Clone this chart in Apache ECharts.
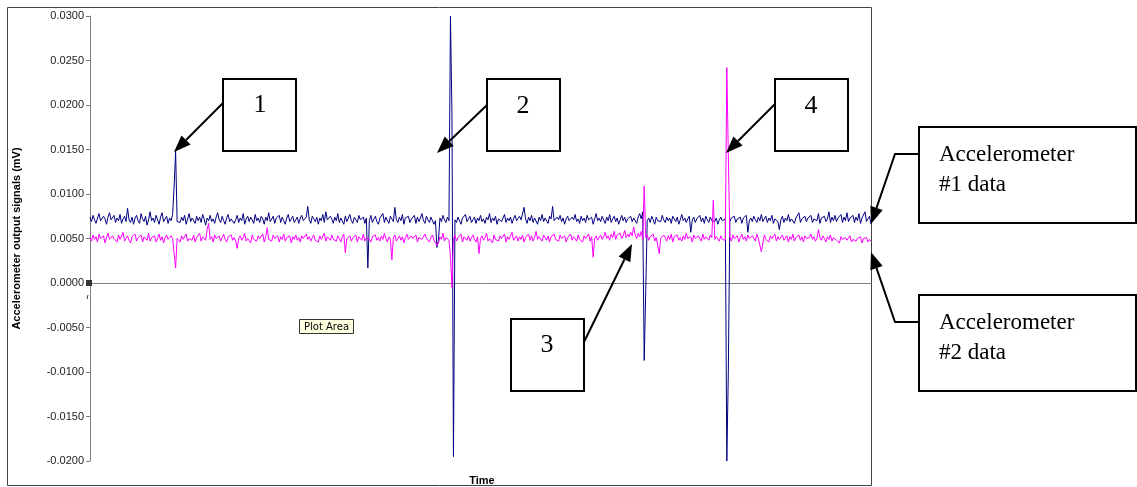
<!DOCTYPE html>
<html><head><meta charset="utf-8">
<script src="https://cdn.jsdelivr.net/npm/echarts@6/dist/echarts.min.js"></script>
<style>html,body{margin:0;padding:0;background:#fff}#c{width:1137px;height:487px}</style>
</head><body><div id="c"></div>
<script>
// Accelerometer #1 output signal (mV), navy trace
const acc1 = [
0.0074,0.0069,0.0076,0.0071,0.0067,0.0073,0.0078,0.0070,0.0068,0.0075,0.0072,0.0066,0.0074,0.0079,0.0071,0.0069,0.0076,0.0068,0.0073,0.0070,
0.0077,0.0067,0.0072,0.0075,0.0069,0.0084,0.0071,0.0068,0.0074,0.0066,0.0073,0.0076,0.0070,0.0067,0.0078,0.0072,0.0069,0.0075,0.0065,0.0071,
0.0080,0.0070,0.0073,0.0068,0.0076,0.0071,0.0066,0.0074,0.0079,0.0069,0.0072,0.0075,0.0067,0.0073,0.0070,0.0077,0.0108,0.0148,0.0069,0.0071,
0.0068,0.0074,0.0070,0.0076,0.0066,0.0072,0.0078,0.0069,0.0073,0.0071,0.0067,0.0075,0.0070,0.0074,0.0068,0.0077,0.0072,0.0065,0.0073,0.0070,
0.0076,0.0069,0.0072,0.0067,0.0074,0.0079,0.0071,0.0068,0.0075,0.0070,0.0066,0.0073,0.0077,0.0069,0.0072,0.0074,0.0067,0.0071,0.0076,0.0068,
0.0073,0.0070,0.0078,0.0066,0.0072,0.0075,0.0069,0.0074,0.0071,0.0067,0.0077,0.0070,0.0073,0.0068,0.0075,0.0072,0.0066,0.0074,0.0070,0.0079,
0.0069,0.0072,0.0075,0.0067,0.0073,0.0071,0.0076,0.0068,0.0074,0.0070,0.0066,0.0073,0.0077,0.0069,0.0072,0.0075,0.0068,0.0071,0.0074,0.0067,
0.0073,0.0076,0.0070,0.0068,0.0074,0.0086,0.0071,0.0067,0.0075,0.0072,0.0069,0.0074,0.0066,0.0073,0.0070,0.0077,0.0068,0.0080,0.0071,0.0069,
0.0075,0.0072,0.0067,0.0074,0.0070,0.0078,0.0068,0.0073,0.0071,0.0066,0.0075,0.0069,0.0073,0.0077,0.0070,0.0067,0.0074,0.0072,0.0068,0.0076,
0.0071,0.0069,0.0074,0.0067,0.0073,0.0017,0.0070,0.0076,0.0068,0.0072,0.0075,0.0069,0.0066,0.0073,0.0071,0.0078,0.0068,0.0074,0.0070,0.0067,
0.0075,0.0072,0.0069,0.0085,0.0071,0.0068,0.0074,0.0070,0.0077,0.0066,0.0073,0.0071,0.0075,0.0068,0.0072,0.0070,0.0076,0.0067,0.0074,0.0069,
0.0073,0.0078,0.0070,0.0067,0.0075,0.0071,0.0068,0.0074,0.0072,0.0066,0.0070,0.0040,0.0048,0.0073,0.0069,0.0076,0.0071,0.0068,0.0074,0.0070,
0.0300,0.0190,-0.0195,0.0071,0.0068,0.0074,0.0070,0.0066,0.0073,0.0071,0.0077,0.0069,0.0072,0.0075,0.0068,0.0071,0.0074,0.0067,0.0073,0.0070,
0.0076,0.0069,0.0072,0.0067,0.0074,0.0071,0.0078,0.0068,0.0073,0.0070,0.0075,0.0066,0.0072,0.0074,0.0069,0.0071,0.0077,0.0068,0.0073,0.0070,
0.0074,0.0067,0.0072,0.0076,0.0070,0.0068,0.0075,0.0071,0.0069,0.0085,0.0072,0.0067,0.0074,0.0070,0.0076,0.0068,0.0073,0.0071,0.0066,0.0074,
0.0070,0.0077,0.0069,0.0073,0.0071,0.0067,0.0075,0.0072,0.0086,0.0070,0.0068,0.0074,0.0071,0.0076,0.0069,0.0073,0.0066,0.0072,0.0075,0.0070,
0.0068,0.0074,0.0071,0.0077,0.0069,0.0072,0.0067,0.0075,0.0070,0.0073,0.0068,0.0076,0.0071,0.0069,0.0074,0.0066,0.0072,0.0078,0.0070,0.0073,
0.0069,0.0075,0.0071,0.0067,0.0074,0.0070,0.0077,0.0068,0.0072,0.0075,0.0069,0.0073,0.0066,0.0071,0.0076,0.0070,0.0074,0.0068,0.0072,0.0070,
0.0075,0.0069,0.0073,0.0071,0.0067,0.0074,0.0078,0.0072,0.0080,-0.0087,-0.0010,0.0070,0.0073,0.0068,0.0075,0.0071,0.0066,0.0074,0.0070,0.0072,
0.0069,0.0076,0.0071,0.0068,0.0074,0.0070,0.0073,0.0067,0.0075,0.0072,0.0069,0.0074,0.0066,0.0071,0.0077,0.0070,0.0073,0.0068,0.0072,0.0075,
0.0057,0.0071,0.0074,0.0068,0.0072,0.0070,0.0076,0.0069,0.0073,0.0067,0.0075,0.0071,0.0068,0.0074,0.0070,0.0072,0.0069,0.0073,0.0066,0.0071,
0.0074,0.0070,0.0068,0.0072,-0.0200,-0.0101,0.0069,0.0073,0.0071,0.0075,0.0068,0.0072,0.0070,0.0074,0.0067,0.0073,0.0071,0.0076,0.0057,0.0070,
0.0073,0.0069,0.0075,0.0071,0.0068,0.0074,0.0070,0.0077,0.0069,0.0072,0.0075,0.0068,0.0073,0.0070,0.0076,0.0067,0.0072,0.0074,0.0069,0.0060,
0.0071,0.0075,0.0068,0.0073,0.0070,0.0077,0.0069,0.0072,0.0074,0.0067,0.0073,0.0071,0.0079,0.0068,0.0072,0.0070,0.0075,0.0069,0.0073,0.0071,
0.0076,0.0068,0.0072,0.0074,0.0070,0.0078,0.0067,0.0073,0.0071,0.0075,0.0069,0.0072,0.0080,0.0068,0.0074,0.0070,0.0076,0.0069,0.0073,0.0071,
0.0077,0.0068,0.0074,0.0070,0.0079,0.0069,0.0073,0.0071,0.0076,0.0068,0.0074,0.0070,0.0078,0.0067,0.0073,0.0071,0.0080,0.0069,0.0072,0.0075,
0.0066
];
// Accelerometer #2 output signal (mV), magenta trace
const acc2 = [
0.0051,0.0047,0.0054,0.0049,0.0052,0.0046,0.0055,0.0050,0.0048,0.0053,0.0045,0.0051,0.0056,0.0049,0.0047,0.0053,0.0050,0.0052,0.0046,0.0054,
0.0049,0.0051,0.0057,0.0047,0.0050,0.0053,0.0048,0.0045,0.0052,0.0050,0.0055,0.0047,0.0051,0.0049,0.0054,0.0046,0.0052,0.0050,0.0048,0.0056,
0.0047,0.0051,0.0049,0.0053,0.0046,0.0050,0.0055,0.0048,0.0052,0.0045,0.0051,0.0054,0.0049,0.0047,0.0053,0.0050,0.0048,0.0017,0.0050,0.0052,
0.0046,0.0053,0.0049,0.0051,0.0055,0.0047,0.0050,0.0052,0.0048,0.0054,0.0046,0.0051,0.0049,0.0056,0.0047,0.0052,0.0050,0.0048,0.0060,0.0067,
0.0049,0.0052,0.0046,0.0054,0.0050,0.0048,0.0053,0.0047,0.0051,0.0055,0.0049,0.0046,0.0052,0.0050,0.0054,0.0048,0.0051,0.0047,0.0039,0.0050,
0.0053,0.0048,0.0051,0.0056,0.0047,0.0050,0.0052,0.0045,0.0054,0.0049,0.0051,0.0047,0.0053,0.0050,0.0048,0.0055,0.0046,0.0052,0.0062,0.0049,
0.0051,0.0047,0.0054,0.0050,0.0048,0.0053,0.0046,0.0052,0.0049,0.0055,0.0047,0.0051,0.0050,0.0053,0.0045,0.0052,0.0049,0.0054,0.0048,0.0051,
0.0046,0.0053,0.0050,0.0048,0.0055,0.0049,0.0052,0.0047,0.0051,0.0054,0.0048,0.0050,0.0046,0.0053,0.0049,0.0051,0.0056,0.0047,0.0052,0.0050,
0.0048,0.0054,0.0049,0.0051,0.0047,0.0053,0.0050,0.0046,0.0052,0.0055,0.0034,0.0050,0.0048,0.0053,0.0047,0.0051,0.0049,0.0054,0.0046,0.0052,
0.0050,0.0048,0.0055,0.0047,0.0051,0.0053,0.0049,0.0046,0.0052,0.0050,0.0054,0.0048,0.0051,0.0047,0.0053,0.0049,0.0056,0.0050,0.0046,0.0052,
0.0049,0.0026,0.0051,0.0054,0.0047,0.0050,0.0053,0.0048,0.0052,0.0045,0.0051,0.0055,0.0049,0.0047,0.0053,0.0050,0.0048,0.0054,0.0046,0.0051,
0.0053,0.0049,0.0047,0.0055,0.0050,0.0052,0.0046,0.0051,0.0054,0.0048,0.0050,0.0042,0.0045,0.0052,0.0049,0.0056,0.0047,0.0051,0.0053,0.0048,
0.0030,-0.0005,0.0050,0.0054,0.0047,0.0051,0.0049,0.0055,0.0046,0.0052,0.0050,0.0048,0.0053,0.0047,0.0051,0.0054,0.0049,0.0046,0.0052,0.0033,
0.0050,0.0053,0.0048,0.0051,0.0056,0.0047,0.0050,0.0052,0.0045,0.0054,0.0049,0.0051,0.0047,0.0053,0.0050,0.0048,0.0055,0.0046,0.0052,0.0049,
0.0051,0.0057,0.0048,0.0050,0.0053,0.0047,0.0052,0.0049,0.0054,0.0046,0.0051,0.0050,0.0055,0.0048,0.0053,0.0047,0.0051,0.0058,0.0049,0.0052,
0.0050,0.0047,0.0054,0.0051,0.0048,0.0053,0.0046,0.0052,0.0050,0.0055,0.0049,0.0051,0.0047,0.0054,0.0050,0.0048,0.0053,0.0046,0.0051,0.0049,
0.0055,0.0048,0.0052,0.0050,0.0047,0.0054,0.0049,0.0051,0.0046,0.0053,0.0050,0.0048,0.0055,0.0047,0.0052,0.0029,0.0050,0.0053,0.0048,0.0051,
0.0054,0.0049,0.0052,0.0057,0.0050,0.0053,0.0048,0.0055,0.0051,0.0058,0.0049,0.0054,0.0052,0.0056,0.0050,0.0053,0.0059,0.0051,0.0055,0.0052,
0.0057,0.0053,0.0063,0.0054,0.0050,0.0056,0.0052,0.0058,0.0049,0.0109,0.0051,0.0054,0.0048,0.0052,0.0050,0.0055,0.0047,0.0051,0.0053,0.0033,
0.0050,0.0048,0.0054,0.0051,0.0047,0.0053,0.0049,0.0055,0.0046,0.0052,0.0050,0.0054,0.0048,0.0051,0.0047,0.0053,0.0049,0.0056,0.0050,0.0048,
0.0052,0.0046,0.0054,0.0050,0.0048,0.0053,0.0051,0.0047,0.0055,0.0049,0.0052,0.0050,0.0048,0.0054,0.0051,0.0093,0.0049,0.0052,0.0050,0.0047,
0.0053,0.0049,0.0051,0.0048,0.0242,0.0144,0.0052,0.0047,0.0054,0.0050,0.0048,0.0053,0.0046,0.0051,0.0055,0.0049,0.0052,0.0047,0.0054,0.0050,
0.0048,0.0053,0.0051,0.0047,0.0055,0.0050,0.0052,0.0035,0.0037,0.0054,0.0049,0.0051,0.0046,0.0053,0.0050,0.0048,0.0055,0.0047,0.0052,0.0049,
0.0051,0.0054,0.0048,0.0050,0.0053,0.0046,0.0052,0.0049,0.0055,0.0047,0.0051,0.0050,0.0054,0.0048,0.0052,0.0046,0.0053,0.0050,0.0048,0.0051,
0.0055,0.0049,0.0052,0.0047,0.0050,0.0060,0.0051,0.0048,0.0053,0.0050,0.0046,0.0052,0.0049,0.0054,0.0047,0.0051,0.0053,0.0048,0.0050,0.0045,
0.0052,0.0049,0.0047,0.0051,0.0048,0.0050,0.0053,0.0046,0.0049,0.0051,0.0047,0.0050,0.0048,0.0052,0.0045,0.0050,0.0048,0.0051,0.0046,0.0049,
0.0047
];
const calloutLabels = ['1', '2', '3', '4'];
const seriesLabels = ['Accelerometer', '#1 data', 'Accelerometer', '#2 data'];
const yAxisTitle = 'Accelerometer output signals (mV)';
const xAxisTitle = 'Time';

const timeIdx = acc1.map((_, i) => i);

function arrow(x1, y1, x2, y2, pre) {
  const a = Math.atan2(y2 - y1, x2 - x1), L = 17, W = 6.5;
  const bx = x2 - L * Math.cos(a), by = y2 - L * Math.sin(a);
  const pts = (pre || []).concat([[x1, y1], [bx, by]]);
  return [
    { type: 'polyline', shape: { points: pts }, style: { stroke: '#000', lineWidth: 2, fill: null }, z: 100 },
    { type: 'polygon', shape: { points: [[x2, y2], [bx + W * Math.sin(a), by - W * Math.cos(a)], [bx - W * Math.sin(a), by + W * Math.cos(a)]] }, style: { fill: '#000' }, z: 100 }
  ];
}
function box(x, y, w, h) {
  return { type: 'rect', shape: { x: x, y: y, width: w, height: h }, style: { fill: '#fff', stroke: '#000', lineWidth: 2 }, z: 100 };
}
function txt(s, x, y, size, align) {
  return { type: 'text', z: 101, style: { text: s, x: x, y: y, fill: '#000', font: size + 'px "Liberation Serif"', align: align || 'center', verticalAlign: 'middle', textAlign: align || 'center', textVerticalAlign: 'middle' } };
}

const graphics = [
  { type: 'rect', shape: { x: 7.5, y: 7.5, width: 864, height: 478 }, style: { fill: null, stroke: '#444', lineWidth: 1 }, z: 0, silent: true },
  { type: 'rect', shape: { x: 86, y: 280, width: 6, height: 6 }, style: { fill: '#333' }, z: 50 },
  { type: 'line', shape: { x1: 88, y1: 295, x2: 87, y2: 299 }, style: { stroke: '#333', lineWidth: 1 }, z: 50 },
  { type: 'rect', shape: { x: 299.5, y: 319.5, width: 54, height: 14 }, style: { fill: '#FFFFE1', stroke: '#333', lineWidth: 1 }, z: 60 },
  { type: 'text', z: 61, style: { text: 'Plot Area', x: 326.5, y: 327, fill: '#000', font: '10px "DejaVu Sans"', align: 'center', verticalAlign: 'middle', textAlign: 'center', textVerticalAlign: 'middle' } },
  { type: 'text', z: 61, style: { text: xAxisTitle, x: 482, y: 481, fill: '#000', font: 'bold 11px "Liberation Sans"', align: 'center', verticalAlign: 'middle', textAlign: 'center', textVerticalAlign: 'middle' } },
  box(223, 79, 73, 72), txt(calloutLabels[0], 260, 105, 26),
  box(487, 79, 73, 72), txt(calloutLabels[1], 523, 106, 26),
  box(511, 319, 73, 72), txt(calloutLabels[2], 547, 345, 26),
  box(775, 79, 73, 72), txt(calloutLabels[3], 811, 106, 26),
  box(919, 127, 217, 96), txt(seriesLabels[0], 939, 155, 23, 'left'), txt(seriesLabels[1], 939, 185, 23, 'left'),
  box(919, 295, 217, 96), txt(seriesLabels[2], 939, 323, 23, 'left'), txt(seriesLabels[3], 939, 353, 23, 'left')
]
.concat(arrow(223, 103, 174, 152))
.concat(arrow(487, 105, 437, 153))
.concat(arrow(584, 342, 632, 244))
.concat(arrow(775, 104, 726, 153))
.concat(arrow(895, 154, 871, 224, [[919, 154]]))
.concat(arrow(895, 322, 871, 252, [[919, 322]]));

const chart = echarts.init(document.getElementById('c'), null, { renderer: 'canvas' });
chart.setOption({
  animation: false,
  backgroundColor: '#fff',
  tooltip: { show: false },
  axisPointer: { show: false },
  grid: { left: 90, right: 266, top: 16, bottom: 26, containLabel: false, outerBoundsMode: 'none' },
  xAxis: {
    type: 'category', data: timeIdx, boundaryGap: false,
    axisPointer: { show: false },
    axisLine: { show: true, onZero: true, lineStyle: { color: '#808080', width: 1 } },
    axisTick: { show: false }, axisLabel: { show: false }, splitLine: { show: false }, splitArea: { show: false }
  },
  yAxis: {
    type: 'value', min: -0.02, max: 0.03, interval: 0.005,
    axisPointer: { show: false },
    axisLine: { show: true, lineStyle: { color: '#808080', width: 1 } },
    axisTick: { show: true, length: 4, lineStyle: { color: '#808080' } },
    axisLabel: { formatter: v => v.toFixed(4), fontFamily: 'Liberation Sans', fontSize: 11, color: '#222', margin: 6 },
    splitLine: { show: false },
    name: yAxisTitle, nameLocation: 'middle', nameGap: 68,
    nameTextStyle: { fontFamily: 'Liberation Sans', fontWeight: 'bold', fontSize: 11, color: '#000' }
  },
  series: [
    { name: 'Accelerometer #1', type: 'line', data: acc1, showSymbol: false, symbol: 'none', sampling: null,
      lineStyle: { color: '#000080', width: 1 }, itemStyle: { color: '#000080' }, z: 2 },
    { name: 'Accelerometer #2', type: 'line', data: acc2, showSymbol: false, symbol: 'none', sampling: null,
      lineStyle: { color: '#FF00FF', width: 1 }, itemStyle: { color: '#FF00FF' }, z: 3 }
  ],
  graphic: graphics
});
</script>
</body></html>
